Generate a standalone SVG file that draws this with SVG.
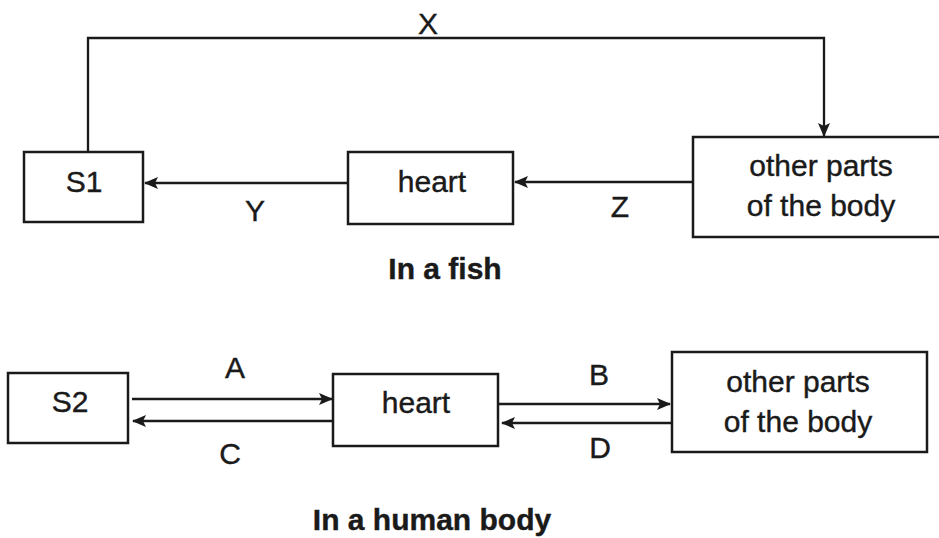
<svg xmlns="http://www.w3.org/2000/svg" width="939" height="538" viewBox="0 0 939 538">
<style>
.box{fill:#fff;stroke:#1a1a1a;stroke-width:2.5}
.ln{fill:none;stroke:#1a1a1a;stroke-width:2.3}
.t{font-family:"Liberation Sans",Arial,sans-serif;font-size:30px;fill:#1a1a1a;text-anchor:middle;stroke:#1a1a1a;stroke-width:0.4}
.b{font-weight:bold}
</style>
<defs>
<marker id="ah" markerWidth="14" markerHeight="12" refX="13" refY="6" orient="auto" markerUnits="userSpaceOnUse">
<path d="M0,0 L14,6 L0,12 L3,6 Z" fill="#1a1a1a"/>
</marker>
</defs>
<rect width="939" height="538" fill="#fff"/>
<g id="connectors">
<path class="ln" d="M88,152 V38 H824 V136" marker-end="url(#ah)"/>
<line class="ln" x1="348" y1="183" x2="145" y2="183" marker-end="url(#ah)"/>
<line class="ln" x1="693" y1="182" x2="515" y2="182" marker-end="url(#ah)"/>
<line class="ln" x1="132" y1="399" x2="332" y2="399" marker-end="url(#ah)"/>
<line class="ln" x1="333" y1="421" x2="133" y2="421" marker-end="url(#ah)"/>
<line class="ln" x1="498" y1="404" x2="670" y2="404" marker-end="url(#ah)"/>
<line class="ln" x1="672" y1="423" x2="502" y2="423" marker-end="url(#ah)"/>
<text class="t" x="428" y="34">X</text>
<text class="t" x="255" y="221">Y</text>
<text class="t" x="620" y="217">Z</text>
<text class="t" x="235" y="378">A</text>
<text class="t" x="230" y="464">C</text>
<text class="t" x="599" y="385">B</text>
<text class="t" x="600" y="458">D</text>
</g>
<g id="s1">
<rect class="box" x="24" y="152" width="119" height="70"/>
<text class="t" x="84" y="192">S1</text>
</g>
<g id="heart1">
<rect class="box" x="348" y="152" width="165" height="72"/>
<text class="t" x="432" y="192">heart</text>
</g>
<g id="body1">
<rect class="box" x="693" y="137" width="260" height="100"/>
<text class="t" x="821" y="176">other parts</text>
<text class="t" x="821" y="216">of the body</text>
</g>
<g id="s2">
<rect class="box" x="8" y="373" width="120" height="70"/>
<text class="t" x="70" y="412">S2</text>
</g>
<g id="heart2">
<rect class="box" x="333" y="374" width="165" height="72"/>
<text class="t" x="416" y="413">heart</text>
</g>
<g id="body2">
<rect class="box" x="672" y="352" width="255" height="100"/>
<text class="t" x="798" y="392">other parts</text>
<text class="t" x="798" y="432">of the body</text>
</g>
<g id="captions">
<text class="t b" x="445" y="279">In a fish</text>
<text class="t b" x="432" y="530">In a human body</text>
</g>
</svg>
